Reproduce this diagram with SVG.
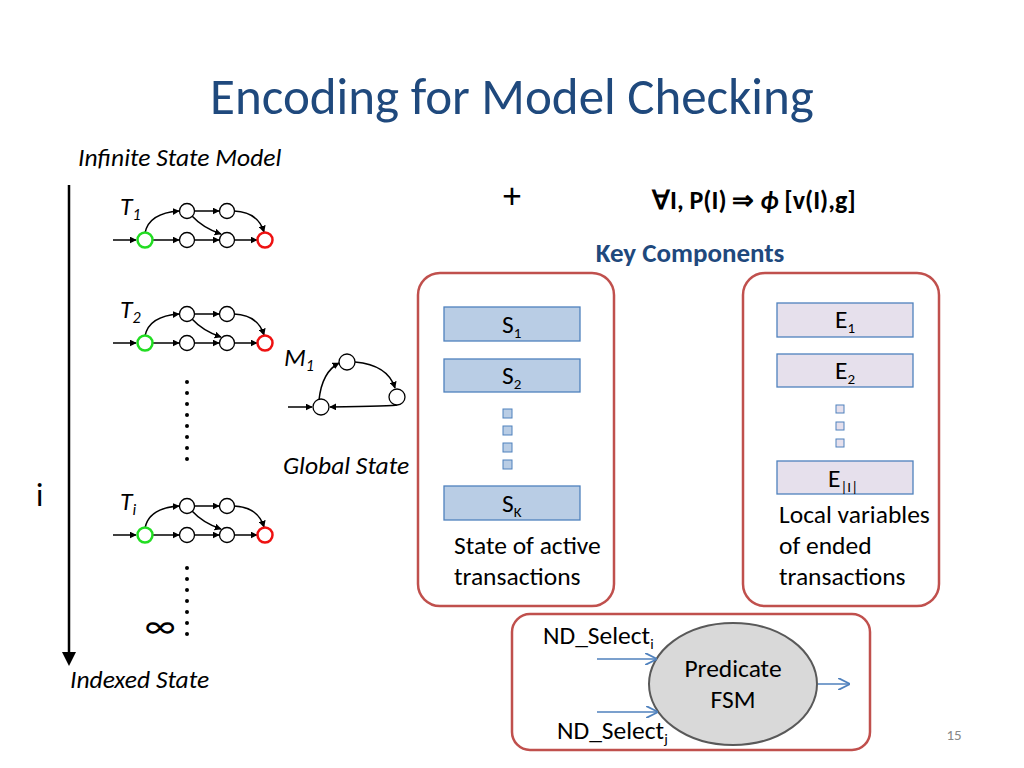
<svg xmlns="http://www.w3.org/2000/svg" xmlns:xlink="http://www.w3.org/1999/xlink" width="1024" height="768" viewBox="0 0 1024 768">
<style>
text{font-family:Calibri,Carlito,"Liberation Sans",sans-serif}
.it{font-style:italic;font-size:25.5px;fill:#000}
.n{fill:#fff;stroke:#000;stroke-width:1.3}
.e{fill:none;stroke:#000;stroke-width:1.5;marker-end:url(#ah)}
.box{fill:#fff;stroke:#c0504d;stroke-width:2.5}
.sb{fill:#b9cde5;stroke:#4f81bd;stroke-width:1.3}
.eb{fill:#e6e0ec;stroke:#4f81bd;stroke-width:1.3}
.sq{fill:#b9cde5;stroke:#4f81bd;stroke-width:1}
.sq2{fill:#e6e0ec;stroke:#4f81bd;stroke-width:1}
.t{font-size:25.5px;fill:#000}
.b{stroke:#4f81bd;stroke-width:1.5;fill:none;marker-end:url(#ab)}
.dot{stroke:#000;stroke-width:4;stroke-dasharray:0 11;stroke-linecap:round}
</style>
<defs>
<marker id="ah" viewBox="0 0 10 10" refX="9" refY="5" markerWidth="7" markerHeight="7" orient="auto" markerUnits="userSpaceOnUse"><path d="M0,0L10,5L0,10z"/></marker>
<marker id="ab" viewBox="0 0 10 10" refX="9" refY="5" markerWidth="12" markerHeight="12" orient="auto" markerUnits="userSpaceOnUse"><path d="M0,0L10,5L0,10" fill="none" stroke="#4f81bd" stroke-width="1.5"/></marker>
<g id="tg">
<path class="e" d="M-32,0H-9"/>
<path class="e" d="M8,0H34"/>
<path class="e" d="M50,0H74"/>
<path class="e" d="M90,0H112"/>
<path class="e" d="M0,-7Q4,-27 34,-29"/>
<path class="e" d="M50,-29H74"/>
<path class="e" d="M47,-24Q58,-12 76,-6"/>
<path class="e" d="M89,-29Q113,-28 119,-8"/>
<circle class="n" cx="42" cy="-29" r="7.5"/>
<circle class="n" cx="82" cy="-29" r="7.5"/>
<circle class="n" cx="42" cy="0" r="7.5"/>
<circle class="n" cx="82" cy="0" r="7.5"/>
<circle cx="0" cy="0" r="7.5" fill="#fff" stroke="#22dd22" stroke-width="2.5"/>
<circle cx="120" cy="0" r="7.5" fill="#fff" stroke="#ee1111" stroke-width="2.5"/>
</g>
</defs>
<rect width="1024" height="768" fill="#fff"/>
<text x="512" y="114" text-anchor="middle" font-size="51" fill="#1f497d">Encoding for Model Checking</text>
<text x="78" y="166" class="it">Infinite State Model</text>
<text x="512" y="208" text-anchor="middle" font-size="36">+</text>
<text x="652" y="209" font-size="26" font-weight="bold">∀I, P(I) ⇒ <tspan font-style="italic">ϕ</tspan> [v(I),g]</text>
<text x="690" y="262" text-anchor="middle" font-size="27" font-weight="bold" fill="#1f497d">Key Components</text>

<g id="axis"><path d="M69,185V655" stroke="#000" stroke-width="2.5"/><path d="M62,652L69,666L76,652z"/>
<text x="36" y="506" font-size="32">i</text>
<text x="70" y="688" class="it">Indexed State</text></g>

<g id="T1"><text x="120" y="215" class="it">T<tspan font-size="16" dy="5">1</tspan></text><use xlink:href="#tg" x="145" y="240"/></g>
<g id="T2"><text x="120" y="318" class="it">T<tspan font-size="16" dy="5">2</tspan></text><use xlink:href="#tg" x="145" y="343"/></g>
<g id="Ti"><text x="120" y="510" class="it">T<tspan font-size="16" dy="5">i</tspan></text><use xlink:href="#tg" x="145" y="535"/></g>
<g id="dots"><path class="dot" d="M187,382V466"/><path class="dot" d="M187,568V645"/>
<text x="160" y="638" text-anchor="middle" font-size="36">∞</text></g>

<g id="M1"><text x="284" y="366" class="it">M<tspan font-size="16" dy="5">1</tspan></text>
<path class="e" d="M288,407H312"/>
<path class="e" d="M319,400Q322,372 339,363"/>
<path class="e" d="M355,362Q388,365 395,388"/>
<path class="e" d="M397,405Q395,406 330,407"/>
<circle class="n" cx="321" cy="407" r="8"/>
<circle class="n" cx="347" cy="362" r="8"/>
<circle class="n" cx="397" cy="397" r="8"/>
<text x="283" y="474" class="it">Global State</text></g>

<g id="active"><rect class="box" x="418" y="273" width="196" height="333" rx="22"/>
<rect class="sb" x="444" y="307" width="136" height="34"/><text x="502" y="333" class="t">S<tspan font-size="15" dy="5">1</tspan></text>
<rect class="sb" x="444" y="359" width="136" height="33"/><text x="502" y="384" class="t">S<tspan font-size="15" dy="5">2</tspan></text>
<rect class="sq" x="503" y="409" width="9" height="9"/><rect class="sq" x="503" y="426" width="9" height="9"/><rect class="sq" x="503" y="443" width="9" height="9"/><rect class="sq" x="503" y="460" width="9" height="9"/>
<rect class="sb" x="444" y="486" width="136" height="34"/><text x="502" y="512" class="t">S<tspan font-size="15" dy="5">K</tspan></text>
<text x="454" y="554" class="t">State of active</text><text x="454" y="585" class="t">transactions</text></g>

<g id="ended"><rect class="box" x="743" y="273" width="196" height="333" rx="22"/>
<rect class="eb" x="777" y="303" width="136" height="34"/><text x="835" y="328" class="t">E<tspan font-size="15" dy="5">1</tspan></text>
<rect class="eb" x="777" y="354" width="136" height="33"/><text x="835" y="379" class="t">E<tspan font-size="15" dy="5">2</tspan></text>
<rect class="sq2" x="836" y="405" width="8" height="8"/><rect class="sq2" x="836" y="422" width="8" height="8"/><rect class="sq2" x="836" y="439" width="8" height="8"/>
<rect class="eb" x="777" y="461" width="136" height="33"/><text x="828" y="487" class="t">E<tspan font-size="15" dy="5">|I|</tspan></text>
<text x="779" y="523" class="t">Local variables</text><text x="779" y="554" class="t">of ended</text><text x="779" y="585" class="t">transactions</text></g>

<g id="fsm"><rect class="box" x="512" y="614" width="358" height="136" rx="18"/>
<ellipse cx="733" cy="684" rx="84" ry="61" fill="#d9d9d9" stroke="#595959" stroke-width="2"/>
<text x="733" y="677" text-anchor="middle" class="t">Predicate</text><text x="733" y="708" text-anchor="middle" class="t">FSM</text>
<text x="543" y="644" class="t">ND_Select<tspan font-size="15" dy="5">i</tspan></text>
<text x="557" y="739" class="t">ND_Select<tspan font-size="15" dy="5">j</tspan></text></g>
<g id="connectors"><path class="b" d="M597,659H656"/><path class="b" d="M597,712H657"/><path class="b" d="M818,684H849"/></g>
<text x="954" y="740" text-anchor="middle" font-size="15" fill="#888">15</text>
</svg>
